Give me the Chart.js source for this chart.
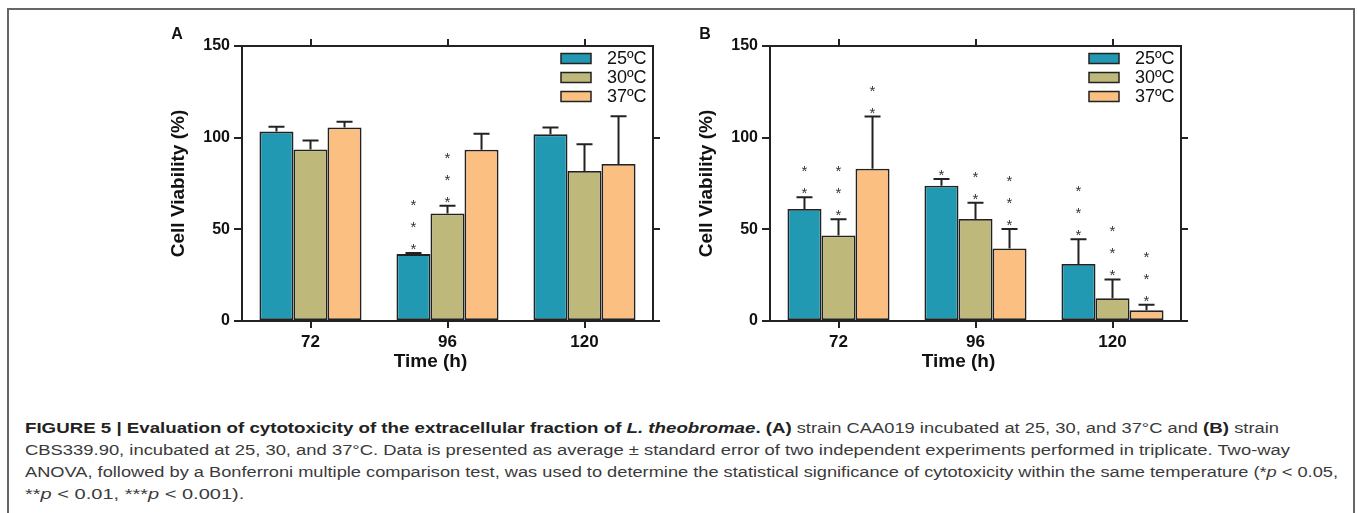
<!DOCTYPE html>
<html><head><meta charset="utf-8">
<script src="https://cdn.jsdelivr.net/npm/chart.js@4.4.1/dist/chart.umd.min.js"></script>
<style>
html,body{margin:0;padding:0;background:#fff;width:1357px;height:513px;overflow:hidden;}
#frame{position:absolute;left:7px;top:8px;width:1348px;height:560px;border:2px solid #666;box-sizing:border-box;}
.cv{position:absolute;top:20px;width:530px;height:370px;}
#wA{left:150px} #wB{left:678px}
.cap{position:absolute;left:25px;height:22px;line-height:22px;white-space:nowrap;font-family:"Liberation Sans Narrow","Liberation Sans",Arial,sans-serif;font-size:15.5px;color:#3a3a3a;transform-origin:0 50%;}
.cap b{color:#222}
.bs{display:inline-block;white-space:nowrap;overflow:visible;vertical-align:top;}
.bs > span{display:inline-block;transform-origin:0 50%;white-space:nowrap;}
</style></head>
<body>
<div id="frame"></div>
<div class="cv" id="wA"><canvas id="cA"></canvas></div>
<div class="cv" id="wB"><canvas id="cB"></canvas></div>
<div class="cap" id="l1" style="top:417px" data-w="1254"><span class="bs"><span><b>FIGURE 5 | Evaluation of cytotoxicity of the extracellular fraction of <i>L. theobromae</i>.</b></span></span> <span class="bs"><span><b>(A)</b></span></span> strain CAA019 incubated at 25, 30, and 37°C and <span class="bs"><span><b>(B)</b></span></span> strain</div>
<div class="cap" id="l2" style="top:439px" data-w="1265">CBS339.90, incubated at 25, 30, and 37°C. Data is presented as average ± standard error of two independent experiments performed in triplicate. Two-way</div>
<div class="cap" id="l3" style="top:461px" data-w="1313">ANOVA, followed by a Bonferroni multiple comparison test, was used to determine the statistical significance of cytotoxicity within the same temperature (*<i>p</i> &lt; 0.05,</div>
<div class="cap" id="l4" style="top:483px" data-w="238">**<i>p</i> &lt; 0.01, ***<i>p</i> &lt; 0.001).</div>
<script>
// ---- data ----
const timeLabels = ['72', '96', '120'];
const seriesLabels = ['25ºC', '30ºC', '37ºC'];
const yTicks = [0, 50, 100, 150];

// Panel A (strain CAA019)
const a25 = [103.3, 36.5, 101.8];
const a30 = [93.6, 58.7, 81.8];
const a37 = [105.6, 93.4, 85.6];
const a25Err = [2.7, 0.6, 3.7];
const a30Err = [4.9, 4.2, 14.6];
const a37Err = [3.1, 8.8, 26.1];
const a25Stars = [0, 3, 0];
const a30Stars = [0, 3, 0];
const a37Stars = [0, 0, 0];

// Panel B (strain CBS339.90)
const b25 = [61.1, 73.8, 31.1];
const b30 = [46.7, 55.6, 12.4];
const b37 = [83.1, 39.6, 5.8];
const b25Err = [6.4, 3.7, 13.5];
const b30Err = [8.8, 8.9, 10.3];
const b37Err = [28.4, 10.6, 3.1];
const b25Stars = [2, 1, 3];
const b30Stars = [3, 2, 3];
const b37Stars = [2, 3, 3];

const colors = ['#2199b3', '#bfb87b', '#fbbf82'];
const FONT = '"Liberation Sans", Arial, sans-serif';
const INK = '#222';

const panelPlugin = {
  id: 'panelExtras',
  afterDatasetsDraw(chart) {
    const ctx = chart.ctx, y = chart.scales.y;
    ctx.save();
    ctx.font = '15px ' + FONT;
    const m = ctx.measureText('*');
    const off = (m.actualBoundingBoxAscent - m.actualBoundingBoxDescent) / 2;
    chart.data.datasets.forEach((ds, i) => {
      const meta = chart.getDatasetMeta(i);
      meta.data.forEach((el, j) => {
        const top = y.getPixelForValue(ds.data[j] + ds.errors[j]);
        const x = el.x;
        ctx.strokeStyle = INK; ctx.lineWidth = 2;
        ctx.beginPath();
        ctx.moveTo(x, el.y); ctx.lineTo(x, top);
        ctx.moveTo(x - 8, top); ctx.lineTo(x + 8, top);
        ctx.stroke();
        ctx.fillStyle = '#333'; ctx.textAlign = 'center'; ctx.textBaseline = 'alphabetic';
        for (let k = 0; k < ds.stars[j]; k++) {
          const cy = top - 6 - 22 * k;
          ctx.fillText('*', x, cy + off);
        }
      });
    });
    ctx.restore();
  },
  afterDraw(chart, args, opts) {
    const ctx = chart.ctx, ca = chart.chartArea;
    ctx.save();
    // legend
    const lx = ca.right - 92, ly0 = ca.top + 12.5;
    chart.data.datasets.forEach((ds, i) => {
      const cy = ly0 + 19 * i;
      ctx.fillStyle = ds.backgroundColor;
      ctx.fillRect(lx, cy - 5, 30, 10);
      ctx.strokeStyle = INK; ctx.lineWidth = 1.5;
      ctx.strokeRect(lx, cy - 5, 30, 10);
      ctx.fillStyle = '#111';
      ctx.font = '18px ' + FONT;
      ctx.textAlign = 'left'; ctx.textBaseline = 'middle';
      ctx.fillText(ds.label, lx + 46, cy + 1);
    });
    // y title
    ctx.fillStyle = '#111';
    ctx.font = 'bold 19px ' + FONT;
    ctx.textAlign = 'center'; ctx.textBaseline = 'middle';
    ctx.save();
    ctx.translate(28.5, (ca.top + ca.bottom) / 2);
    ctx.rotate(-Math.PI / 2);
    ctx.fillText('Cell Viability (%)', 0, 0);
    ctx.restore();
    // x title
    ctx.fillText('Time (h)', (ca.left + ca.right) / 2 - 17, 342);
    // panel label
    ctx.font = 'bold 16px ' + FONT;
    ctx.fillText(opts.label, 27, 15);
    ctx.restore();
  }
};

function makeChart(id, label, vals, errs, stars) {
  const axisGrid = (len, hideTop) => ({
    drawOnChartArea: false, drawTicks: true, tickLength: len,
    tickWidth: 2, lineWidth: 2,
    tickColor: hideTop ? (c) => (c.tick && c.tick.value === 150 ? 'rgba(0,0,0,0)' : INK) : INK,
    color: INK
  });
  return new Chart(document.getElementById(id), {
    type: 'bar',
    data: {
      labels: timeLabels,
      datasets: seriesLabels.map((s, i) => ({
        label: s, data: vals[i], errors: errs[i], stars: stars[i],
        backgroundColor: colors[i], borderColor: INK, borderWidth: 1.8,
        borderSkipped: false,
        categoryPercentage: 0.745, barPercentage: 1.0
      }))
    },
    options: {
      responsive: true, maintainAspectRatio: false, animation: false,
      layout: { padding: 0 },
      plugins: { legend: { display: false }, tooltip: { enabled: false }, panelExtras: { label } },
      scales: {
        x: {
          type: 'category', position: 'bottom', offset: true,
          grid: Object.assign(axisGrid(7), { offset: false }),
          border: { color: INK, width: 2 },
          ticks: { color: '#111', font: { family: FONT, size: 17, weight: 'bold' }, padding: 4 },
          afterFit: (s) => { s.height = 69; }
        },
        x2: {
          type: 'category', position: 'top', offset: true,
          grid: Object.assign(axisGrid(7), { offset: false }),
          border: { color: INK, width: 2 },
          ticks: { display: false },
          afterFit: (s) => { s.height = 26; }
        },
        y: {
          min: 0, max: 150,
          afterBuildTicks: (s) => { s.ticks = yTicks.map(v => ({ value: v })); },
          grid: axisGrid(8),
          border: { color: INK, width: 2 },
          ticks: { color: '#111', font: { family: FONT, size: 16, weight: 'bold' }, padding: 4 },
          afterFit: (s) => { s.width = 92; }
        },
        y2: {
          position: 'right', min: 0, max: 150,
          afterBuildTicks: (s) => { s.ticks = yTicks.map(v => ({ value: v })); },
          grid: axisGrid(7, true),
          border: { color: INK, width: 2 },
          ticks: { display: false },
          afterFit: (s) => { s.width = 27; }
        }
      }
    },
    plugins: [panelPlugin]
  });
}

makeChart('cA', 'A', [a25, a30, a37], [a25Err, a30Err, a37Err], [a25Stars, a30Stars, a37Stars]);
makeChart('cB', 'B', [b25, b30, b37], [b25Err, b30Err, b37Err], [b25Stars, b30Stars, b37Stars]);

function fitCaption() {
  const lines = ['l1', 'l2', 'l3', 'l4'].map(id => document.getElementById(id));
  lines.forEach(el => { el.style.transform = 'none'; });
  const bs = Array.from(document.querySelectorAll('.bs'));
  bs.forEach(o => { o.style.width = 'auto'; o.firstElementChild.style.transform = 'none'; });
  const nat = lines.map(el => el.getBoundingClientRect().width);
  const s2 = +lines[1].dataset.w / nat[1];
  const s3 = +lines[2].dataset.w / nat[2];
  const sReg = (s2 + s3) / 2;
  const boldW = bs.reduce((a, o) => a + o.getBoundingClientRect().width, 0);
  const regW = nat[0] - boldW;
  const k = (+lines[0].dataset.w / sReg - regW) / boldW;
  bs.forEach(o => {
    const w = o.getBoundingClientRect().width;
    o.style.width = (w * k) + 'px';
    o.firstElementChild.style.transform = 'scaleX(' + k + ')';
  });
  const s4 = +lines[3].dataset.w / nat[3];
  const scales = [sReg, s2, s3, (s4 + sReg) / 2];
  lines.forEach((el, i) => { el.style.transform = 'scaleX(' + scales[i] + ')'; });
}
fitCaption();
if (document.fonts && document.fonts.ready) document.fonts.ready.then(fitCaption);
</script>
</body></html>
